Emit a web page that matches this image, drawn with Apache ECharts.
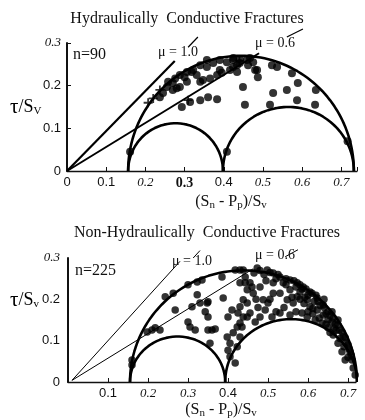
<!DOCTYPE html>
<html><head><meta charset="utf-8">
<script src="https://cdn.jsdelivr.net/npm/echarts@6/dist/echarts.min.js"></script>
<style>html,body{margin:0;padding:0;background:#fff}#c{width:365px;height:420px}</style>
</head><body><div id="c"></div>
<script>
// ---------- data ----------
const xTickLabelsTop = ['0','0.1','0.2','0.3','0.4','0.5','0.6','0.7'];
const xTickLabelsBottom = ['','0.1','0.2','0.3','0.4','0.5','0.6','0.7'];
const yTickLabels = ['0','0.1','0.2','0.3'];

// Mohr circles: [sigma_left, sigma_right, tau_peak]
const circlesTop = [[0.156,0.398,0.112],[0.398,0.732,0.150],[0.156,0.732,0.270]];
const circlesBottom = [[0.155,0.393,0.110],[0.393,0.7225,0.152],[0.155,0.7225,0.270]];

const mu10Top = [[0,0],[0.275,0.258]];
const mu06Top = [[0,0],[0.49,0.276]];
const mu10Bottom = [[0.01,0.004],[0.28,0.292]];
const mu06Bottom = [[0.01,0.004],[0.463,0.274]];

const leaderMu10Top = [[0.309,0.290],[0.334,0.314]];
const leaderMu06Top = [[0.561,0.314],[0.602,0.333]];
const leaderMu10Bottom = [[0.313,0.300],[0.330,0.318]];
const leaderMu06Bottom = [[0.543,0.303],[0.575,0.320]];

const dotsTop = [
[0.237,0.173],[0.255,0.197],[0.27,0.206],[0.28,0.194],[0.30,0.22],[0.322,0.237],[0.34,0.248],[0.357,0.244],
[0.373,0.253],[0.39,0.237],[0.408,0.255],[0.424,0.26],[0.441,0.262],[0.459,0.26],[0.475,0.255],[0.485,0.237],
[0.487,0.22],[0.523,0.248],[0.536,0.244],[0.574,0.229],[0.589,0.206],[0.635,0.19],[0.449,0.197],[0.526,0.183],
[0.561,0.19],[0.587,0.166],[0.518,0.155],[0.454,0.155],[0.633,0.155],[0.716,0.07],[0.408,0.045],[0.34,0.166],
[0.383,0.168],[0.36,0.173],[0.314,0.162],[0.293,0.15],[0.161,0.045],
[0.258,0.209],[0.276,0.217],[0.288,0.225],[0.306,0.232],[0.318,0.232],[0.331,0.225],[0.34,0.209],[0.347,0.213],
[0.365,0.217],[0.383,0.225],[0.395,0.23],[0.416,0.237],[0.424,0.244],[0.434,0.248],[0.441,0.253],[0.462,0.248],
[0.434,0.232],[0.245,0.183],[0.27,0.19],[0.288,0.197],[0.306,0.209],[0.357,0.26],[0.39,0.26],[0.424,0.265],
[0.467,0.265],[0.48,0.237]
];
const crossesTop = [[0.207,0.16],[0.22,0.17],[0.237,0.19],[0.309,0.166],[0.44,0.258]];

const dotsBottom = [
[0.21,0.126],[0.218,0.131],[0.198,0.121],[0.16,0.041],[0.16,0.053],[0.23,0.126],
[0.243,0.206],[0.263,0.215],[0.3,0.235],[0.323,0.242],[0.335,0.247],[0.385,0.254],[0.418,0.271],[0.43,0.271],
[0.268,0.174],[0.31,0.182],[0.33,0.191],[0.35,0.194],[0.388,0.203],
[0.3,0.145],[0.305,0.133],[0.318,0.126],[0.323,0.211],[0.348,0.191],[0.343,0.17],[0.35,0.157],[0.35,0.126],
[0.36,0.126],[0.368,0.128],[0.355,0.094],[0.398,0.109],[0.405,0.094],[0.4,0.077],[0.405,0.061],[0.413,0.119],
[0.423,0.133],[0.4,0.157],[0.41,0.174],[0.425,0.167],[0.43,0.182],[0.438,0.199],[0.43,0.24],[0.443,0.24],
[0.448,0.223],[0.448,0.157],[0.435,0.133],[0.43,0.109],[0.423,0.085],[0.418,0.046],
[0.438,0.271],[0.473,0.276],[0.498,0.271],[0.513,0.264],[0.53,0.254],[0.555,0.247],[0.573,0.24],[0.588,0.23],
[0.605,0.218],[0.623,0.203],[0.638,0.186],[0.65,0.17],[0.663,0.155],[0.675,0.138],[0.685,0.121],[0.693,0.107],
[0.7,0.09],[0.705,0.073],[0.71,0.053],[0.713,0.034],[0.718,0.017],
[0.51,0.157],[0.53,0.167],[0.555,0.162],[0.585,0.167],[0.598,0.157],[0.618,0.15],[0.635,0.143],[0.65,0.131],
[0.663,0.114],[0.675,0.094],[0.685,0.073],[0.693,0.053],
[0.455,0.24],[0.463,0.215],[0.448,0.191],[0.455,0.167],[0.48,0.23],[0.488,0.199],[0.493,0.174],[0.513,0.215],
[0.53,0.215],[0.548,0.199],[0.563,0.191],[0.573,0.206],[0.598,0.199],[0.605,0.182],[0.623,0.174],[0.638,0.162],
[0.65,0.15],[0.538,0.24],[0.555,0.223],[0.58,0.218],[0.513,0.24],[0.5,0.191],[0.465,0.264],[0.443,0.254],
[0.43,0.143],[0.438,0.157],[0.48,0.157],[0.468,0.145],
[0.6,0.21],[0.615,0.195],[0.63,0.185],[0.645,0.165],[0.66,0.145],[0.67,0.125],[0.68,0.105],[0.69,0.085],
[0.7,0.06],[0.64,0.2],[0.66,0.17],[0.675,0.15],[0.62,0.21],[0.585,0.225],[0.57,0.23],[0.545,0.235],
[0.52,0.25],[0.49,0.26],[0.505,0.2],[0.47,0.2],[0.475,0.18],[0.52,0.17],[0.54,0.18],[0.57,0.17],
[0.6,0.17],[0.612,0.165],[0.56,0.205],[0.59,0.19],[0.495,0.245],[0.46,0.23],
[0.48,0.27],[0.505,0.265],[0.525,0.26],[0.545,0.25],[0.565,0.245],[0.58,0.235],[0.595,0.225],[0.61,0.215],
[0.625,0.195],[0.64,0.18],[0.655,0.16],[0.668,0.14],[0.678,0.125],[0.688,0.11],[0.695,0.095],[0.703,0.08],
[0.708,0.065],[0.665,0.13],[0.655,0.12],[0.645,0.14],[0.628,0.155],[0.612,0.178],[0.58,0.2],[0.592,0.205]
];

// ---------- styles ----------
const xStyleTop = ['s','s','i','b','s','i','i','i'];
const xStyleBottom = ['s','s','i','i','s','i','i','i'];
const yStyle = ['s','s','s','i'];
const SERIF = 'Liberation Serif', SANS = 'Liberation Sans';
const richLab = {
  s:{fontFamily:SANS,fontSize:13,color:'#111'},
  i:{fontFamily:SERIF,fontStyle:'italic',fontSize:13,color:'#111'},
  b:{fontFamily:SERIF,fontWeight:'bold',fontSize:14,color:'#111'}
};
function fmt(labels, styles){
  return function(v){
    const i = Math.round(v*10);
    if (Math.abs(v - i/10) > 1e-6 || i < 0 || i >= labels.length || !labels[i]) return '';
    return '{' + styles[i] + '|' + labels[i] + '}';
  };
}
function mohrArc(c){
  const a=c[0], b=c[1], h=c[2], m=(a+b)/2, r=(b-a)/2, pts=[];
  for (let k=0;k<=90;k++){ const t=Math.PI*k/90; pts.push([m - r*Math.cos(t), h*Math.sin(t)]); }
  return pts;
}
const nameRich = {
  a:{fontFamily:SERIF,fontSize:16,color:'#111'},
  sub:{fontFamily:SERIF,fontSize:11,color:'#111',padding:[7,0,0,0]}
};
function xAxisCfg(idx, max, labels, styles, gap, pad){
  return {
    gridIndex: idx, type:'value', min:0, max:max, interval:0.1,
    axisLine:{show:true,onZero:false,lineStyle:{color:'#111',width:1.3}},
    axisTick:{show:true,inside:true,length:4,lineStyle:{color:'#111'}},
    splitLine:{show:false},
    axisLabel:{margin:5,formatter:fmt(labels,styles),rich:richLab},
    name:'{a|(S}{sub|n}{a| - P}{sub|p}{a|)/S}{sub|v}',
    nameLocation:'middle', nameGap:gap,
    nameTextStyle:{rich:nameRich,padding:pad}
  };
}
function yAxisCfg(idx, ticks, margin){
  return {
    gridIndex: idx, type:'value', min:0, max:0.3, interval:0.1,
    axisLine:{show:true,onZero:false,lineStyle:{color:'#111',width:2}},
    axisTick:{show:ticks,inside:true,length:4,lineStyle:{color:'#111'}},
    splitLine:{show:false},
    axisLabel:{margin:margin,formatter:fmt(yTickLabels,yStyle),rich:richLab}
  };
}
function lineS(ax, data, w, clip){
  return {type:'line', xAxisIndex:ax, yAxisIndex:ax, data:data, showSymbol:false, symbol:'none',
    lineStyle:{color:'#000',width:w}, clip: clip!==false, silent:true, animation:false, z:3};
}
const series = [];
circlesTop.forEach(c=>series.push(lineS(0, mohrArc(c), 2.6)));
circlesBottom.forEach(c=>series.push(lineS(1, mohrArc(c), 2.6)));
series.push(lineS(0, mu10Top, 2.2), lineS(0, mu06Top, 2.0));
series.push(lineS(1, mu10Bottom, 1.0), lineS(1, mu06Bottom, 1.0));
series.push(lineS(0, leaderMu10Top, 1.2, false), lineS(0, leaderMu06Top, 1.2, false));
series.push(lineS(1, leaderMu10Bottom, 1.0, false), lineS(1, leaderMu06Bottom, 1.0, false));
series.push({type:'scatter', xAxisIndex:0, yAxisIndex:0, data:dotsTop, symbol:'circle', symbolSize:8,
  itemStyle:{color:'#000'}, animation:false, z:4});
series.push({type:'scatter', xAxisIndex:0, yAxisIndex:0, data:crossesTop,
  symbol:'path://M4,0H6V4H10V6H6V10H4V6H0V4H4Z', symbolSize:9, itemStyle:{color:'#000'}, animation:false, z:4});
series.push({type:'scatter', xAxisIndex:1, yAxisIndex:1, data:dotsBottom, symbol:'circle', symbolSize:7.5,
  itemStyle:{color:'#000'}, animation:false, z:4});

function tx(x, y, text, size, align, extra){
  return {type:'text', x:x, y:y, silent:true, z:10,
    style:Object.assign({text:text, fontFamily:SERIF, fontSize:size, fill:'#111', align:align||'left', verticalAlign:'middle'}, extra||{})};
}
const tauRich = {
  t:{fontFamily:SERIF,fontSize:21,color:'#111'},
  s:{fontFamily:SERIF,fontSize:18,color:'#111'},
  v:{fontFamily:SERIF,fontSize:11,color:'#111',padding:[9,0,0,0]}
};
const chart = echarts.init(document.getElementById('c'), null, {renderer:'canvas'});
chart.setOption({
  backgroundColor:'#fff',
  animation:false,
  grid:[
    {left:67, top:43, width:290, height:128},
    {left:68, top:258, width:288, height:124}
  ],
  xAxis:[
    xAxisCfg(0, 0.74, xTickLabelsTop, xStyleTop, 22, [0,0,0,38]),
    xAxisCfg(1, 0.72, xTickLabelsBottom, xStyleBottom, 19, [0,0,0,18])
  ],
  yAxis:[ yAxisCfg(0, true, 6), yAxisCfg(1, false, 8) ],
  series: series,
  graphic:[
    tx(187, 19, 'Hydraulically  Conductive Fractures', 16, 'center'),
    tx(207, 233, 'Non-Hydraulically  Conductive Fractures', 16, 'center'),
    tx(73, 55, 'n=90', 16),
    tx(75, 271, 'n=225', 16),
    tx(158, 52, 'μ = 1.0', 14),
    tx(255, 43, 'μ = 0.6', 14),
    tx(172, 261, 'μ = 1.0', 14),
    tx(255, 255, 'μ = 0.6', 14),
    {type:'text', x:10, y:107, silent:true, z:10, style:{text:'{t|τ}{s|/S}{v|V}', rich:tauRich, verticalAlign:'middle', align:'left'}},
    {type:'text', x:10, y:300, silent:true, z:10, style:{text:'{t|τ}{s|/S}{v|v}', rich:tauRich, verticalAlign:'middle', align:'left'}}
  ]
});
</script>
</body></html>
